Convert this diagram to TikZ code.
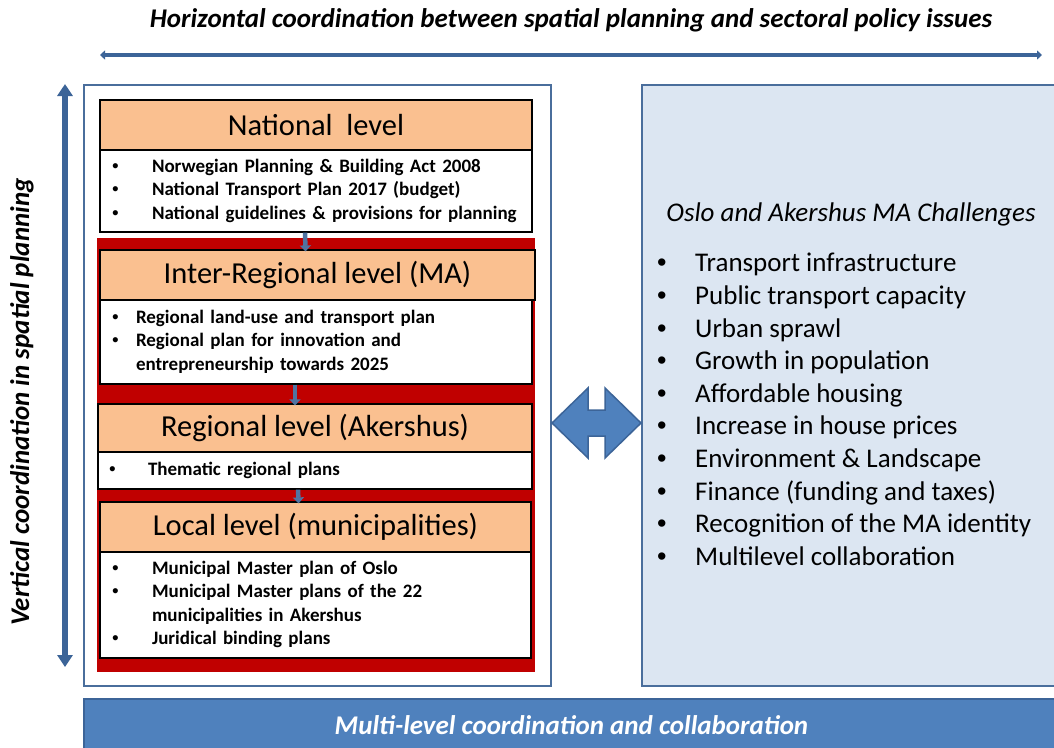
\documentclass[tikz,border=0pt]{standalone}
\usepackage{fontspec}
\setmainfont{Carlito}
\newfontfamily\bulletfont{Liberation Sans}
\usetikzlibrary{positioning, arrows.meta, calc}
\definecolor{hdrorange}{HTML}{FAC090}
\definecolor{deepred}{HTML}{C00000}
\definecolor{paleblue}{HTML}{DCE6F2}
\definecolor{midblue}{HTML}{4F81BD}
\definecolor{lineblue}{HTML}{3C6498}
\definecolor{frameblue}{HTML}{4A6E9C}
\newcommand\bu{{\bulletfont\mdseries\textbullet}}
\newcommand\blist[2]{\begin{tabular}{@{}p{#1}@{}l@{}}#2\end{tabular}}

\begin{document}
\begin{tikzpicture}[x=1pt, y=-1pt,
  panel/.style={draw=frameblue, line width=2pt, anchor=north west, inner sep=0pt},
  header/.style={draw, line width=1.2pt, fill=hdrorange, minimum height=50pt, inner sep=0pt, font=\fontsize{30.5}{34}\selectfont},
  listbox/.style={draw, line width=1.2pt, fill=white, inner xsep=12pt, inner ysep=0pt, align=left, font=\bfseries\fontsize{19}{23.5}\selectfont},
  linkarrow/.style={-{Triangle[width=11pt,length=6pt]}, line width=4.5pt, draw=lineblue!90!white, shorten >=-2pt},
  axisarrow/.style={{Triangle[width=15pt,length=12pt]}-{Triangle[width=15pt,length=12pt]}, line width=6pt, draw=lineblue},
  label/.style={font=\bfseries\itshape\fontsize{27}{31}\selectfont}]
\useasboundingbox (0,0) rectangle (1054,747);
\fill[white] (0,0) rectangle (1054,747);

\node[label] (htext) at (571,20) {Horizontal coordination between spatial planning and sectoral policy issues};
\coordinate (hl) at (100,55);
\coordinate (hr) at (1042,55);
\draw[{Triangle[width=9pt,length=5pt]}-{Triangle[width=9pt,length=5pt]}, line width=4.5pt, draw=lineblue] (hl) -- (hr);

\node[label, rotate=90] (vtext) at (22,402) {Vertical coordination in spatial planning};
\coordinate (vt) at (65,84);
\coordinate (vb) at (65,667);
\draw[axisarrow] (vt) -- (vb);

\node[panel, fill=white, minimum width=467pt, minimum height=601pt] (levels) at (83,84) {};
\node[panel, fill=paleblue, minimum width=420pt, minimum height=601pt] (challenges) at (641,84) {};

\fill[deepred] (97,238) rectangle (535,672);

\node[header, minimum width=432pt] (nat) at (316,125) {National\ \ level};
\node[listbox, minimum width=432pt, minimum height=82pt, text width=408pt] (natlist) at (316,191)
  {\blist{40pt}{\bu & Norwegian Planning \& Building Act 2008\\ \bu & National Transport Plan 2017 (budget)\\ \bu & National guidelines \& provisions for planning}};
\node[header, minimum width=435pt] (inter) at (317.5,275) {Inter-Regional level (MA)};
\node[listbox, minimum width=432pt, minimum height=84pt, text width=408pt] (interlist) at (316,342)
  {\blist{24pt}{\bu & Regional land-use and transport plan\\ \bu & Regional plan for innovation and\\ & entrepreneurship towards 2025}};
\node[header, minimum width=434pt, minimum height=48pt] (reg) at (315,428) {Regional level (Akershus)};
\node[listbox, minimum width=434pt, minimum height=37pt, text width=412pt, inner xsep=11pt] (reglist) at (315,470.5)
  {\blist{39pt}{\bu & Thematic regional plans}};
\node[header, minimum width=431pt] (loc) at (315.5,527) {Local level (municipalities)};
\node[listbox, minimum width=431pt, minimum height=106pt, text width=407pt] (loclist) at (315.5,605)
  {\blist{40pt}{\bu & Municipal Master plan of Oslo\\ \bu & Municipal Master plans of the 22\\ & municipalities in Akershus\\ \bu & Juridical binding plans}};

\draw[linkarrow] ([xshift=-11pt]natlist.south) -- ([xshift=-12pt]inter.north);
\draw[linkarrow] ([xshift=-21pt]interlist.south) -- ([xshift=-20pt]reg.north);
\draw[linkarrow] ([xshift=-17pt]reglist.south) -- ([xshift=-17pt]loc.north);

\node[font=\itshape\fontsize{27}{31}\selectfont] (chtitle) at (851,214) {Oslo and Akershus MA Challenges};
\node[anchor=west, inner sep=0pt, font=\fontsize{27}{32.6}\selectfont] (chlist) at (657,412)
  {\blist{38pt}{\bu & Transport infrastructure\\ \bu & Public transport capacity\\ \bu & Urban sprawl\\ \bu & Growth in population\\ \bu & Affordable housing\\ \bu & Increase in house prices\\ \bu & Environment \& Landscape\\ \bu & Finance (funding and taxes)\\ \bu & Recognition of the MA identity\\ \bu & Multilevel collaboration}};

\coordinate (al) at (levels.east |- 0,423);
\coordinate (ar) at (challenges.west |- 0,423);
\filldraw[fill=midblue, draw=lineblue, line width=1.5pt] (al) -- ($(al)+(36,-35)$) -- ($(al)+(36,-13)$) -- ($(ar)+(-36,-13)$) -- ($(ar)+(-36,-35)$) -- (ar)
  -- ($(ar)+(-36,35)$) -- ($(ar)+(-36,13)$) -- ($(al)+(36,13)$) -- ($(al)+(36,35)$) -- cycle;

\node[fill=midblue, draw=lineblue, line width=2pt, anchor=north west, minimum width=975pt, minimum height=52pt, inner sep=0pt,
  label, text=white] (band) at (83,698) {Multi-level coordination and collaboration};
\end{tikzpicture}
\end{document}
